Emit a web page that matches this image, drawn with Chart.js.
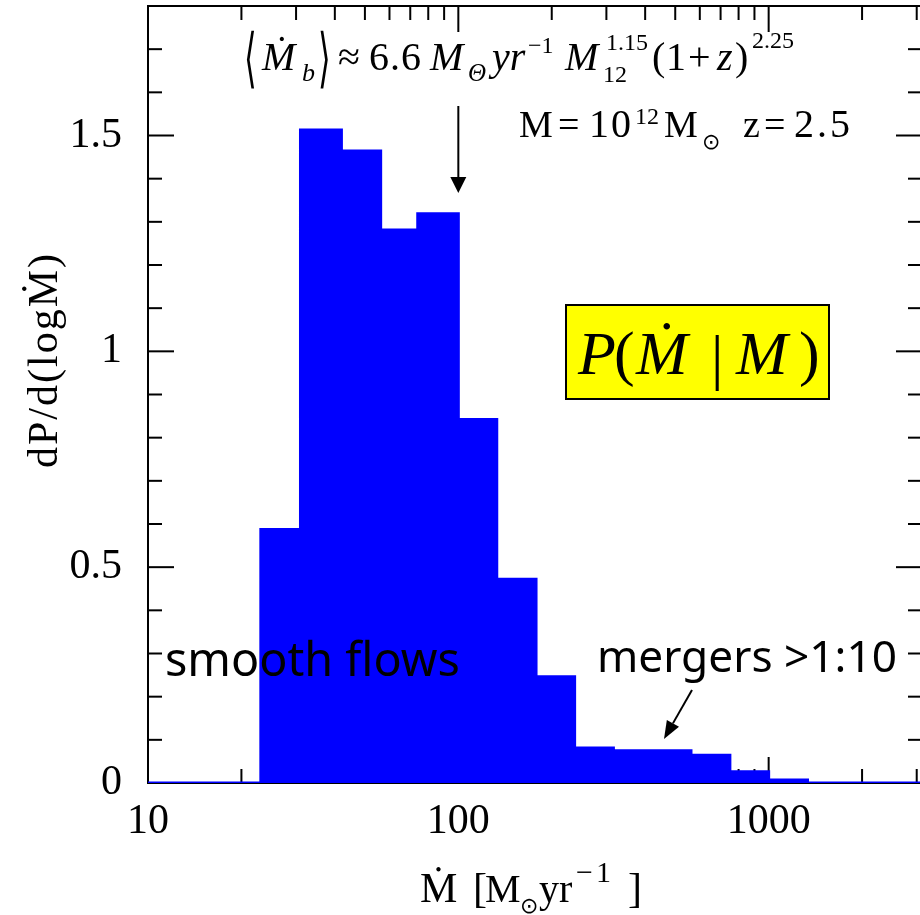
<!DOCTYPE html>
<html><head><meta charset="utf-8">
<script src="https://cdn.jsdelivr.net/npm/chart.js@4.4.1/dist/chart.umd.min.js"></script>
<style>
html,body{margin:0;padding:0;background:#fff;overflow:hidden;}
#wrap{width:930px;height:915px;position:relative;}
</style></head><body>
<div id="wrap"><canvas id="c"></canvas></div>
<script>
// ---- data ----
const binEdges  = [23.1, 31.0, 42.0, 56.2, 74.0, 100, 133, 178, 237, 316, 422, 562, 750, 1000, 1334];
const binValues = [0.587, 1.513, 1.464, 1.281, 1.319, 0.842, 0.472, 0.246, 0.081, 0.075, 0.075, 0.064, 0.026, 0.007];
const xRange = [10, 3120];
const yRange = [0, 1.8];
const xTickValues = [10, 100, 1000];
const yTickValues = [0, 0.5, 1, 1.5];
const yTickLabels = ['0', '0.5', '1', '1.5'];

// step-histogram points built from the arrays
const histPoints = [{x: xRange[0], y: 0}];
binEdges.forEach((e, i) => histPoints.push({x: e, y: i < binValues.length ? binValues[i] : 0}));
histPoints.push({x: xRange[1], y: 0});

const SERIF = '"Liberation Serif", "DejaVu Serif", serif';
const HAND = '"Comic Sans MS", "Noto Sans", sans-serif';

function line(ctx, x1, y1, x2, y2) { ctx.beginPath(); ctx.moveTo(x1, y1); ctx.lineTo(x2, y2); ctx.stroke(); }
function txt(ctx, s, x, y, font, align, spacing) {
  ctx.font = font; ctx.textAlign = align || 'left'; ctx.textBaseline = 'alphabetic';
  try { ctx.letterSpacing = (spacing || 0) + 'px'; } catch (e) {}
  ctx.fillText(s, x, y);
  try { ctx.letterSpacing = '0px'; } catch (e) {}
}
function arrow(ctx, x1, y1, x2, y2, headL, headW) {
  const ang = Math.atan2(y2 - y1, x2 - x1);
  const bx = x2 - headL * Math.cos(ang), by = y2 - headL * Math.sin(ang);
  ctx.lineWidth = 2; line(ctx, x1, y1, bx, by);
  ctx.beginPath(); ctx.moveTo(x2, y2);
  ctx.lineTo(bx + headW / 2 * Math.sin(ang), by - headW / 2 * Math.cos(ang));
  ctx.lineTo(bx - headW / 2 * Math.sin(ang), by + headW / 2 * Math.cos(ang));
  ctx.closePath(); ctx.fill();
}
function fitText(ctx, s, x, y, family, weight, targetW) {
  ctx.font = weight + ' 40px ' + family;
  const w = ctx.measureText(s).width;
  const size = 40 * targetW / w;
  txt(ctx, s, x, y, weight + ' ' + size.toFixed(1) + 'px ' + family, 'left');
}

const framePlugin = {
  id: 'frame',
  beforeDatasetsDraw(chart) {
    const {ctx, chartArea: a, scales: {x, y}} = chart;
    ctx.save();
    ctx.strokeStyle = '#000'; ctx.lineWidth = 2;
    ctx.strokeRect(a.left, a.top, a.right - a.left, a.bottom - a.top);
    for (let d = 10; d <= xRange[1]; d *= 10) {
      for (let k = 1; k <= 9; k++) {
        const v = k * d;
        if (v < xRange[0] || v > xRange[1]) continue;
        const px = x.getPixelForValue(v);
        const L = k === 1 ? 26 : 14;
        line(ctx, px, a.bottom, px, a.bottom - L);
        line(ctx, px, a.top, px, a.top + L);
      }
    }
    for (let i = 0; i <= 18; i++) {
      const py = y.getPixelForValue(i / 10);
      const L = i % 5 === 0 ? 26 : 14;
      line(ctx, a.left, py, a.left + L, py);
      line(ctx, a.right, py, a.right - L, py);
    }
    ctx.restore();
  }
};

const annotPlugin = {
  id: 'annot',
  afterDraw(chart) {
    const {ctx, scales: {x, y}} = chart;
    ctx.save();
    ctx.fillStyle = '#000'; ctx.strokeStyle = '#000';
    const I = s => 'italic ' + s + 'px ' + SERIF;
    const U = s => s + 'px ' + SERIF;

    // formula at top
    ctx.save(); ctx.translate(244, 80); ctx.scale(0.85, 1.7);
    txt(ctx, '\u27E8', 0, 0, '300 38px "DejaVu Sans"'); ctx.restore();
    txt(ctx, '\u1E40', 262, 70, I(40));
    txt(ctx, 'b', 302, 81, I(26));
    ctx.save(); ctx.translate(318, 80); ctx.scale(0.85, 1.7);
    txt(ctx, '\u27E9', 0, 0, '300 38px "DejaVu Sans"'); ctx.restore();
    txt(ctx, '\u2248', 338, 70, U(40));
    txt(ctx, '6.6', 369, 70, U(40), 'left', 1);
    txt(ctx, 'M', 430, 70, I(40));
    txt(ctx, '\u0398', 468, 81, I(25));
    txt(ctx, 'yr', 492, 70, I(40));
    txt(ctx, '\u22121', 528, 53, U(24));
    txt(ctx, 'M', 565, 70, I(40));
    txt(ctx, '1.15', 606, 50, U(24));
    txt(ctx, '12', 603, 82, U(24));
    txt(ctx, '(', 652, 70, U(40));
    txt(ctx, '1', 666, 70, U(40));
    txt(ctx, '+', 688, 70, U(40));
    txt(ctx, 'z', 717, 70, I(40));
    txt(ctx, ')', 735, 70, U(40));
    txt(ctx, '2.25', 752, 48, U(24));

    // vertical arrow pointing at the mean
    const ax = x.getPixelForValue(100);
    arrow(ctx, ax, 106, ax, 193, 16, 16);

    // M = 10^12 Msun  z = 2.5
    txt(ctx, 'M', 519, 137, U(38));
    txt(ctx, '=', 558, 137, U(38));
    txt(ctx, '10', 589, 137, U(40), 'left', 2);
    txt(ctx, '12', 635, 124, U(24));
    txt(ctx, 'M', 664, 137, U(38));
    txt(ctx, '\u2299', 702, 149, '22px "DejaVu Sans"');
    txt(ctx, 'z', 743, 137, U(38));
    txt(ctx, '=', 764, 137, U(38));
    txt(ctx, '2.5', 794, 137, U(40), 'left', 3);

    // yellow box
    ctx.fillStyle = '#ffff00';
    ctx.fillRect(566, 305, 263, 94);
    ctx.lineWidth = 2; ctx.strokeStyle = '#000';
    ctx.strokeRect(566, 305, 263, 94);
    ctx.fillStyle = '#000';
    txt(ctx, 'P', 578, 374, I(62));
    txt(ctx, '(', 614, 374, U(62));
    txt(ctx, '\u1E40', 636, 374, I(62));
    txt(ctx, '|', 711, 378, U(62));
    txt(ctx, 'M', 736, 374, I(62));
    txt(ctx, ')', 799, 374, U(62));

    // handwritten labels
    fitText(ctx, 'smooth flows', 165, 676, HAND, 'normal', 295);
    fitText(ctx, 'mergers >1:10', 597, 672, HAND, 'normal', 300);
    arrow(ctx, 692, 690, 664, 739, 18, 14);

    // x axis title
    txt(ctx, '\u1E40', 420, 902, U(42));
    txt(ctx, '[', 473, 902, U(42));
    txt(ctx, 'M', 485, 902, U(40));
    txt(ctx, '\u2299', 520, 913, '22px "DejaVu Sans"');
    txt(ctx, 'yr', 539, 902, U(40));
    txt(ctx, '\u22121', 576, 882, U(30), 'left', 3);
    txt(ctx, ']', 628, 902, U(42));

    // y axis title
    ctx.save();
    ctx.translate(57, 360); ctx.rotate(-Math.PI / 2);
    txt(ctx, 'dP/d(log\u1E40)', 0, 0, U(42), 'center', 2);
    ctx.restore();
    ctx.restore();
  }
};

new Chart(document.getElementById('c'), {
  type: 'line',
  data: { datasets: [{
    data: histPoints, stepped: 'before', fill: 'origin',
    backgroundColor: '#0000ff', borderColor: '#0000ff', borderWidth: 3,
    pointRadius: 0, tension: 0
  }]},
  options: {
    responsive: true, maintainAspectRatio: false, animation: false, devicePixelRatio: 1,
    layout: { padding: { top: 6, right: 8, left: 0, bottom: 0 } },
    plugins: { legend: { display: false }, tooltip: { enabled: false } },
    scales: {
      x: {
        type: 'logarithmic', min: xRange[0], max: xRange[1],
        grid: { display: false, drawTicks: false }, border: { display: false },
        afterBuildTicks: s => { s.ticks = xTickValues.map(v => ({ value: v })); },
        afterFit: s => { s.height = 132; s.paddingLeft = 0; s.paddingRight = 0; s.paddingTop = 0; s.paddingBottom = 0; },
        ticks: { autoSkip: false, maxRotation: 0, minRotation: 0, padding: 14, color: '#000',
                 font: { family: SERIF, size: 42 }, callback: v => String(v) }
      },
      y: {
        type: 'linear', min: yRange[0], max: yRange[1],
        grid: { display: false, drawTicks: false }, border: { display: false },
        afterBuildTicks: s => { s.ticks = yTickValues.map(v => ({ value: v })); },
        afterFit: s => { s.width = 148; s.paddingLeft = 0; s.paddingRight = 0; s.paddingTop = 0; s.paddingBottom = 0; },
        ticks: { autoSkip: false, padding: 26, color: '#000',
                 font: { family: SERIF, size: 42 },
                 callback: (v) => yTickLabels[yTickValues.indexOf(v)] }
      }
    }
  },
  plugins: [framePlugin, annotPlugin]
});
</script>
</body></html>
